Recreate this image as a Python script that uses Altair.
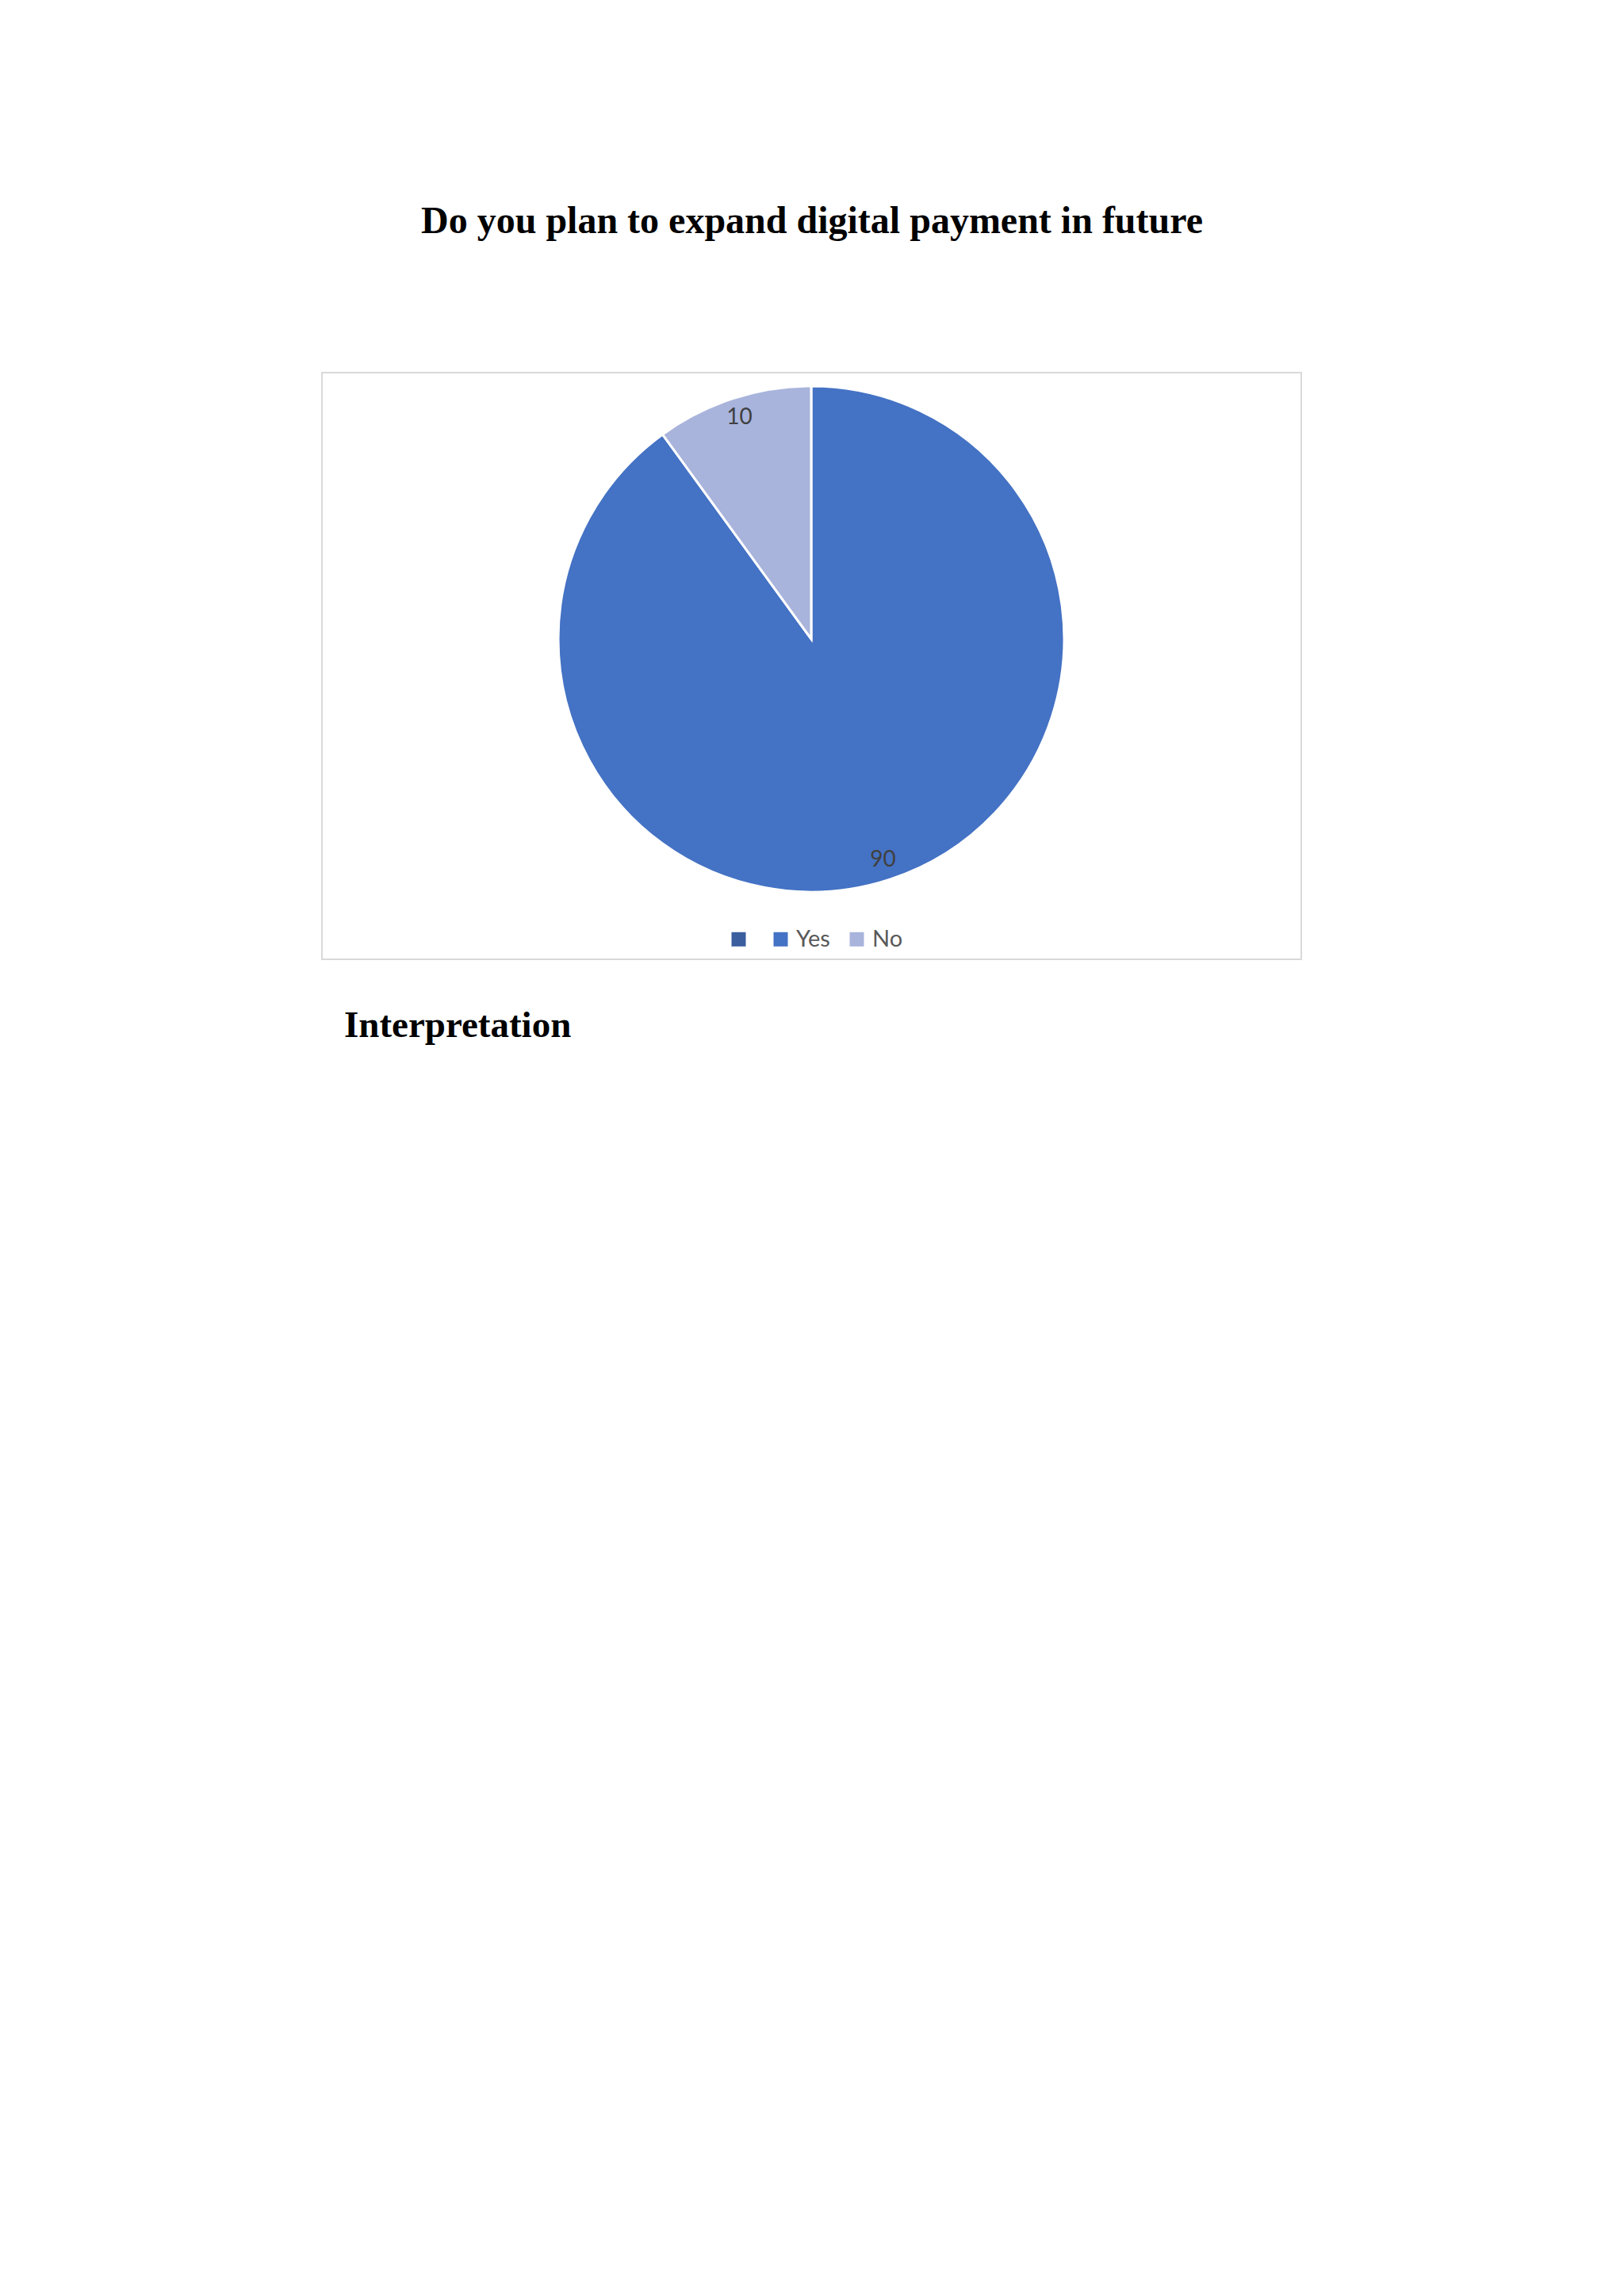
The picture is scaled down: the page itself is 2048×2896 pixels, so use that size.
import altair as alt
import pandas as pd

# ---- data ----
categories = ["Yes", "No"]
values = [90, 10]
legend_labels = ["", "Yes", "No"]
legend_colors = ["#3A5E9E", "#4472C4", "#A9B4DC"]
title_text = "Do you plan to expand digital payment in future"
heading_text = "Interpretation"

df = pd.DataFrame({"category": categories, "value": values, "idx": list(range(len(categories)))})
one = pd.DataFrame({"k": [0]})

CX, CY, R = 1015, 798, 319

base = alt.Chart(df).encode(
    theta=alt.Theta("value:Q", stack=True),
    order=alt.Order("idx:Q"),
)

pie = base.mark_arc(outerRadius=R, stroke="white", strokeWidth=3).encode(
    x=alt.value(CX),
    y=alt.value(CY),
    color=alt.Color(
        "category:N",
        scale=alt.Scale(domain=legend_labels, range=legend_colors),
        legend=alt.Legend(
            title=None,
            orient="none",
            legendX=909,
            legendY=1162,
            direction="horizontal",
            symbolType="square",
            symbolSize=324,
            symbolStrokeWidth=0,
            labelFont="Lato",
            labelFontSize=29,
            labelColor="#595959",
            labelOffset=5,
            columnPadding=19,
            padding=0,
        ),
    ),
)

labels = base.mark_text(radius=293, font="Lato", fontSize=28, color="#404040").encode(
    x=alt.value(CX),
    y=alt.value(CY),
    text=alt.Text("value:Q"),
)

border = alt.Chart(one).mark_rect(fill=None, stroke="#D9D9D9", strokeWidth=2).encode(
    x=alt.value(398), x2=alt.value(1633), y=alt.value(462), y2=alt.value(1202)
)

title = alt.Chart(one).mark_text(
    text=title_text, font="Liberation Serif", fontWeight="bold", fontSize=48,
    align="center", baseline="alphabetic", color="#000000"
).encode(x=alt.value(1016), y=alt.value(286))

heading = alt.Chart(one).mark_text(
    text=heading_text, font="Liberation Serif", fontWeight="bold", fontSize=47,
    align="left", baseline="alphabetic", color="#000000"
).encode(x=alt.value(426), y=alt.value(1300))

chart = alt.layer(border, pie, labels, title, heading).properties(
    width=2032, height=2880, padding=0, autosize=alt.AutoSizeParams(type="none")
).configure_view(strokeWidth=0, stroke="transparent")

chart.save("out.html", embed_options={"renderer": "svg", "actions": False})
